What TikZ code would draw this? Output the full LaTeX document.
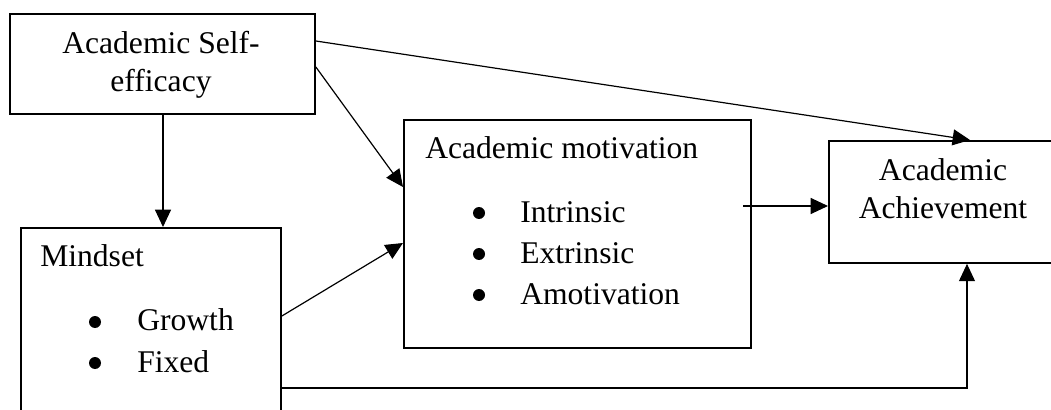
\documentclass[tikz,border=0pt]{standalone}
\usepackage{fontspec}
\setmainfont{Liberation Serif}
\usetikzlibrary{arrows.meta,calc}
\begin{document}
\begin{tikzpicture}[x=0.75pt,y=-0.75pt,
  box/.style={draw,line width=1.4pt,inner sep=0pt,anchor=north west},
  txt/.style={inner sep=0pt,font=\fontsize{23.7pt}{28.5pt}\selectfont},
  dot/.style={circle,fill,inner sep=0pt,minimum size=9pt},
  arr/.style={line width=0.9pt,-{Triangle[length=13pt,width=12pt]}},
  ln/.style={line width=0.9pt}]
\useasboundingbox (0,0) rectangle (1051,410);
\clip (0,0) rectangle (1051,410);
\fill[white] (0,0) rectangle (1051,410);
% boxes
\node[box,minimum width=228.75pt,minimum height=75pt] (se) at (9,13) {};
\node[box,minimum width=195pt,minimum height=150pt] (ms) at (20,227) {};
\node[box,minimum width=260.25pt,minimum height=171pt] (mo) at (403,119) {};
\node[box,minimum width=180pt,minimum height=91.5pt] (ach) at (828,140) {};
% texts
\node[txt,align=center,anchor=base] (set) at (161,92) {Academic Self-\\efficacy};
\node[txt,anchor=base west] (mst) at (40,267) {Mindset};
\node[dot] (b1) at (95,322) {};
\node[txt,anchor=base west] (g) at (137,330) {Growth};
\node[dot] (b2) at (95,363) {};
\node[txt,anchor=base west] (f) at (137,372) {Fixed};
\node[txt,anchor=base west] (mot) at (425,159) {Academic motivation};
\node[dot] (b3) at (479,213) {};
\node[txt,anchor=base west] (i1) at (520,222) {Intrinsic};
\node[dot] (b4) at (479,254) {};
\node[txt,anchor=base west] (i2) at (520,263) {Extrinsic};
\node[dot] (b5) at (479,295) {};
\node[txt,anchor=base west] (i3) at (520,304) {Amotivation};
\node[txt,align=center,anchor=base] (acht) at (943,219) {Academic\\Achievement};
% connectors
\draw[arr] (se.south -| 163,0) -- (ms.north -| 163,0);
\draw[arr] (se.east |- 0,67) -- (mo.west |- 0,187);
\draw[arr] (se.east |- 0,41) -- (ach.north -| 970,0);
\draw[arr] (ms.east |- 0,316) -- (mo.west |- 0,243);
\coordinate (moout) at (743,206);
\draw[arr] (moout) -- (ach.west |- moout);
\draw[arr] (ms.east |- 0,388) -| (ach.south -| 967,0);
\end{tikzpicture}
\end{document}
